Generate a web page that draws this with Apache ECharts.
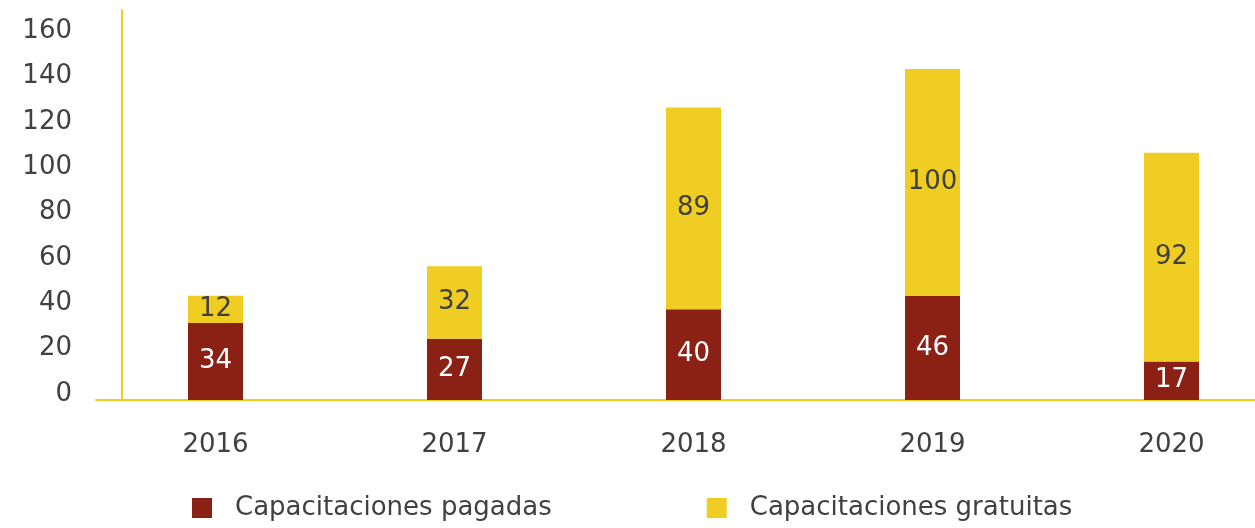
<!DOCTYPE html>
<html>
<head>
<meta charset="utf-8">
<script src="https://cdn.jsdelivr.net/npm/echarts@6/dist/echarts.min.js"></script>
<style>
  html, body { margin: 0; padding: 0; background: #fff; }
  #main { width: 1255px; height: 528px; }
</style>
</head>
<body>
<div id="main"></div>
<script>
// datos
var years = ['2016', '2017', '2018', '2019', '2020'];
var pagadas = [34, 27, 40, 46, 17];
var gratuitas = [12, 32, 89, 100, 92];
var seriesNames = ['Capacitaciones pagadas', 'Capacitaciones gratuitas'];

var RED = '#8B2115';
var YELLOW = '#F0CD22';
var TEXT = '#404040';
var FONT = 'DejaVu Sans';

var chart = echarts.init(document.getElementById('main'));

chart.setOption({
  animation: false,
  textStyle: { fontFamily: FONT },
  // la rejilla sobrepasa el borde derecho, como en el original
  grid: { left: 96, width: 1195, top: 10, height: 390, outerBoundsMode: 'none', containLabel: false },
  legend: {
    left: 187,
    top: 490,
    itemWidth: 20,
    itemHeight: 20,
    itemGap: 155,
    icon: 'rect',
    textStyle: { fontSize: 26, color: TEXT, fontFamily: FONT, padding: [0, 0, 0, 18] },
    data: seriesNames
  },
  xAxis: {
    type: 'category',
    data: years,
    axisLine: { lineStyle: { color: YELLOW, width: 2 } },
    axisTick: { show: false },
    axisLabel: { fontSize: 26, color: TEXT, margin: 32, fontFamily: FONT }
  },
  yAxis: {
    type: 'value',
    min: 0,
    max: 172,
    interval: 20,
    offset: -26,
    splitLine: { show: false },
    axisLine: { show: true, lineStyle: { color: YELLOW, width: 2 } },
    axisTick: { show: false },
    axisLabel: {
      fontSize: 26, color: TEXT, margin: 50, fontFamily: FONT,
      showMaxLabel: false, verticalAlign: 'bottom', lineHeight: 12
    }
  },
  series: [
    {
      name: seriesNames[0],
      type: 'bar',
      stack: 'total',
      barWidth: 55,
      data: pagadas,
      itemStyle: { color: RED },
      label: { show: true, position: 'inside', color: '#fff', fontSize: 26, fontFamily: FONT }
    },
    {
      name: seriesNames[1],
      type: 'bar',
      stack: 'total',
      barWidth: 55,
      data: gratuitas,
      itemStyle: { color: YELLOW },
      label: { show: true, position: 'inside', color: TEXT, fontSize: 26, fontFamily: FONT }
    }
  ]
});
</script>
</body>
</html>
